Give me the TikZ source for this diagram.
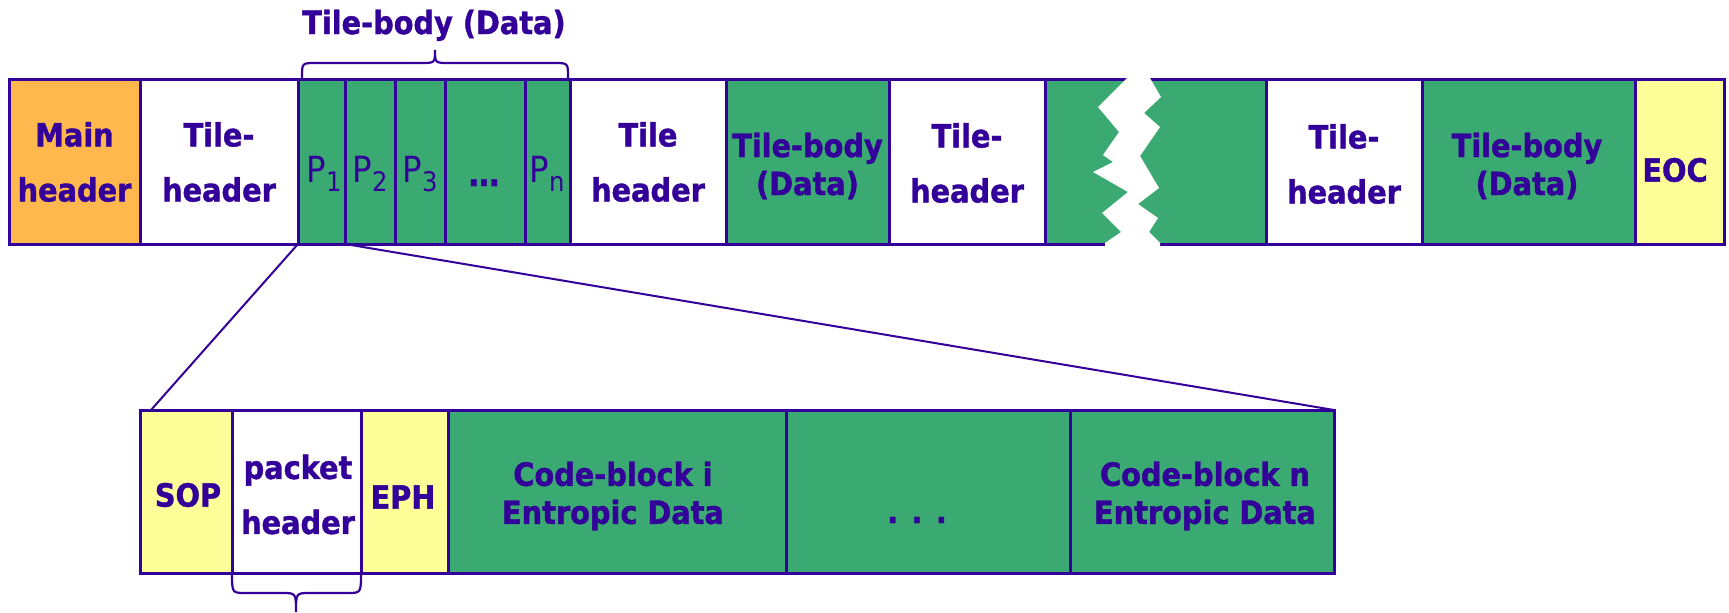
\documentclass[tikz,border=0pt]{standalone}
\usepackage{fontspec}
\setmainfont{DejaVu Sans Condensed}[BoldFeatures={FakeBold=1.2}]
\definecolor{ink}{HTML}{330099}
\definecolor{grn}{HTML}{3AAA72}
\definecolor{org}{HTML}{FFB84D}
\definecolor{yel}{HTML}{FFFF99}
\newcommand\pidx[1]{\raisebox{-4.5pt}{\fontsize{13.5}{13.5}\selectfont #1}}
\tikzset{
  box/.style={draw=ink, line width=1.5pt, inner sep=0pt, outer sep=0pt},
  topbox/.style={box, minimum height=82.5pt},
  botbox/.style={box, minimum height=81.5pt},
  hdr/.style={text=ink, font=\bfseries\fontsize{16}{27.5}\selectfont, align=center, inner sep=0pt},
  tbd/.style={text=ink, font=\bfseries\fontsize{16}{19}\selectfont, align=center, inner sep=0pt},
  plab/.style={text=ink, font=\fontsize{18}{20}\selectfont, inner sep=0pt, anchor=base},
  conn/.style={draw=ink, line width=1pt},
  brc/.style={draw=ink, line width=1.1pt}
}
\begin{document}
\begin{tikzpicture}[x=0.5pt, y=-0.5pt]
\useasboundingbox (0,0) rectangle (1729,612);
\clip (0,0) rectangle (1729,612);
% top strip
\node[topbox, fill=org, minimum width=65.5pt] (mh) at (74.5,161.5) {};
\node[topbox, fill=white, minimum width=79pt] (th1) at (219,161.5) {};
\node[topbox, fill=grn, minimum width=23.5pt] (p1) at (321.5,161.5) {};
\node[topbox, fill=grn, minimum width=25pt] (p2) at (370,161.5) {};
\node[topbox, fill=grn, minimum width=25pt] (p3) at (420,161.5) {};
\node[topbox, fill=grn, minimum width=40pt] (pd) at (485,161.5) {};
\node[topbox, fill=grn, minimum width=22.5pt] (pn) at (547.5,161.5) {};
\node[topbox, fill=white, minimum width=78pt] (th2) at (648,161.5) {};
\node[topbox, fill=grn, minimum width=81.5pt] (tb1) at (807.5,161.5) {};
\node[topbox, fill=white, minimum width=78pt] (th3) at (967,161.5) {};
\node[topbox, fill=grn, minimum width=110.5pt] (g) at (1155.5,161.5) {};
\node[topbox, fill=white, minimum width=78pt] (th4) at (1344,161.5) {};
\node[topbox, fill=grn, minimum width=106.5pt] (tb2) at (1528.5,161.5) {};
\node[topbox, fill=yel, minimum width=44.5pt] (eoc) at (1679.5,161.5) {};
% break
\fill[white] (1127,72) -- (1127,78) -- (1098,107) -- (1119,132) -- (1103,155) -- (1113,162) -- (1093,172) -- (1128,192) -- (1102,213) -- (1121,232) -- (1105,243) -- (1105,250)
  -- (1160,250) -- (1160,243) -- (1149,232) -- (1158,218) -- (1138,204) -- (1159,188) -- (1140,156) -- (1160,127) -- (1144,113) -- (1161,97) -- (1150,78) -- (1150,72) -- cycle;
% top texts
\node[hdr] (t-mh) at (74.5,162) {Main\\header};
\node[hdr] (t-th1) at (219,162) {Tile-\\header};
\node[plab] (t-p1) at (324,182) {P\pidx{1}};
\node[plab] (t-p2) at (370,182) {P\pidx{2}};
\node[plab] (t-p3) at (420,182) {P\pidx{3}};
\node[plab, font=\bfseries\fontsize{17}{20}\selectfont] (t-pd) at (484,186) {…};
\node[plab] (t-pn) at (547,182) {P\pidx{n}};
\node[hdr] (t-th2) at (648,162) {Tile\\header};
\node[tbd] (t-tb1) at (807.5,166) {Tile-body\\(Data)};
\node[hdr] (t-th3) at (967,163) {Tile-\\header};
\node[hdr] (t-th4) at (1344,164) {Tile-\\header};
\node[tbd] (t-tb2) at (1527,166) {Tile-body\\(Data)};
\node[hdr] (t-eoc) at (1675,170) {EOC};
% title and brace
\node[hdr, anchor=base] (title) at (434,34) {Tile-body (Data)};
\draw[brc] (302,80) -- (302,77) .. controls (302,63) .. (316,63) -- (421,63) .. controls (435,63) .. (435,50) .. controls (435,63) .. (449,63) -- (554,63) .. controls (568,63) .. (568,77) -- (568,80);
% bottom strip
\node[botbox, fill=yel, minimum width=46pt] (sop) at (186,491.5) {};
\node[botbox, fill=white, minimum width=64.5pt] (ph) at (296.5,491.5) {};
\node[botbox, fill=yel, minimum width=43.5pt] (eph) at (404.5,491.5) {};
\node[botbox, fill=grn, minimum width=169pt] (cbi) at (617,491.5) {};
\node[botbox, fill=grn, minimum width=142pt] (cbd) at (928,491.5) {};
\node[botbox, fill=grn, minimum width=132pt] (cbn) at (1202,491.5) {};
\node[hdr] (t-sop) at (188,495) {SOP};
\node[hdr] (t-ph) at (298,494.5) {packet\\header};
\node[hdr] (t-eph) at (403,497) {EPH};
\node[tbd] (t-cbi) at (613,496) {Code-block i\\Entropic Data};
\node[hdr, anchor=base] (t-cbd) at (917,523) {. . .};
\node[tbd] (t-cbn) at (1205,496) {Code-block n\\Entropic Data};
\draw[brc] (232,573) .. controls (232,593) .. (246,593) -- (282,593) .. controls (296,593) .. (296,612) .. controls (296,593) .. (310,593) -- (347,593) .. controls (361,593) .. (361,573);
% connectors
\coordinate (c1) at (151,410);
\draw[conn] (p1.south west) -- (c1);
\draw[conn] (p1.south east) -- (cbn.north east);
\end{tikzpicture}
\end{document}
